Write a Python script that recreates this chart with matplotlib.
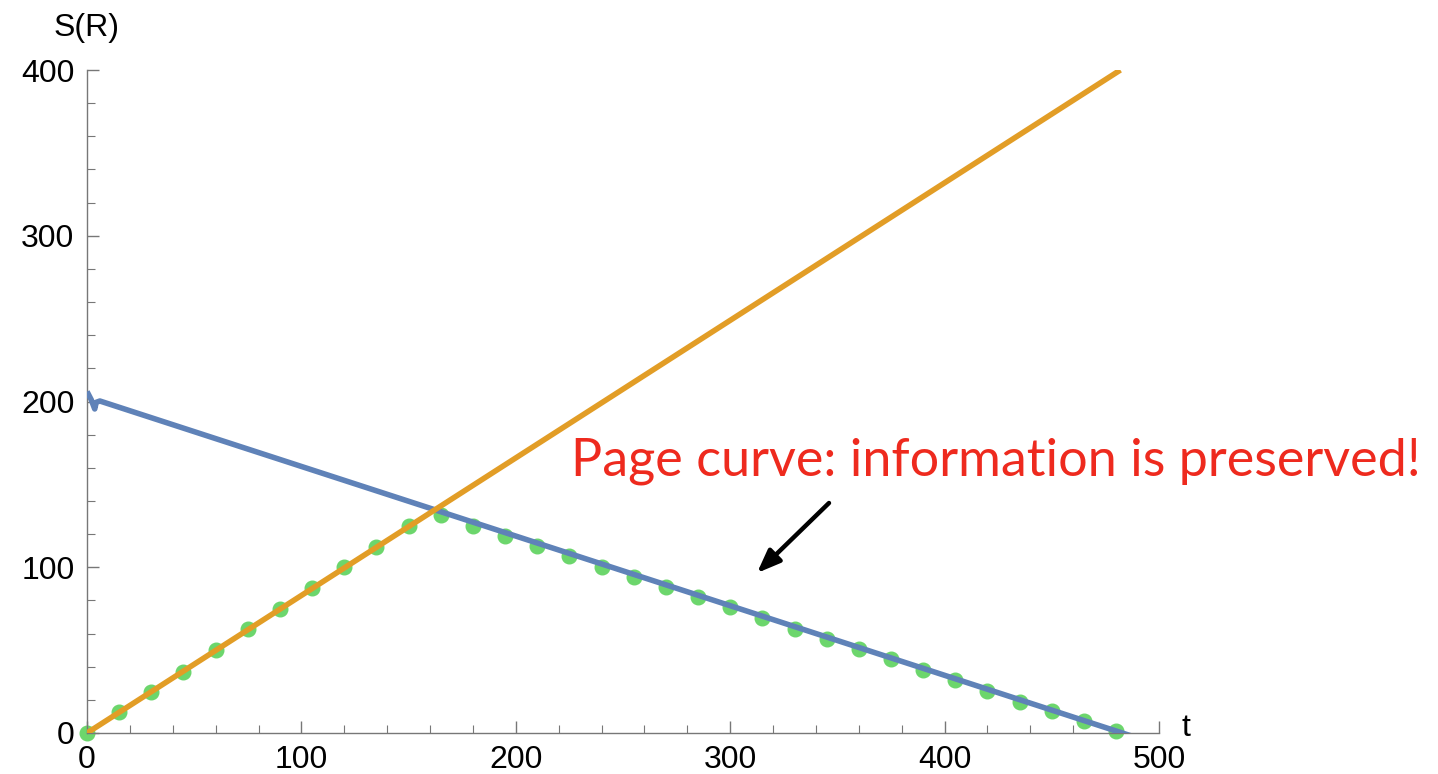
import matplotlib
matplotlib.use('Agg')
import matplotlib.pyplot as plt
from matplotlib.ticker import MultipleLocator

# radiation entropy (orange, straight line)
rad_t = [0, 482]
rad_s = [0, 400]

# black hole entropy (blue) with the small kink at the start
bh_t = [0, 2, 3.6, 4.3, 6, 490]
bh_s = [206, 201, 195.5, 199.5, 200.3, -3]

# Page curve points (green dots)
page_t = [0, 15, 30, 45, 60, 75, 90, 105, 120, 135, 150, 165, 180, 195, 210, 225, 240,
          255, 270, 285, 300, 315, 330, 345, 360, 375, 390, 405, 420, 435, 450, 465, 480]
page_s = [0, 12.5, 25, 37, 50, 62.5, 75, 87.5, 100, 112, 125, 131.5, 125, 119, 113, 107,
          100, 94, 88, 82, 76, 69.5, 63, 56.5, 50.5, 44.5, 38, 32, 25.5, 19, 13, 7, 1]

tick_col = '#777777'
plt.rcParams['font.family'] = ['Liberation Sans', 'DejaVu Sans']

fig = plt.figure(figsize=(14.38, 7.74), dpi=100)
ax = fig.add_axes([87 / 1438, 1 - 733 / 774, (1159 - 87) / 1438, (733 - 70) / 774])

ax.plot(page_t, page_s, 'o', color='#6CD66C', markersize=10.5, zorder=2, clip_on=False)
ax.plot(bh_t, bh_s, color='#5F82B8', lw=4, zorder=3, solid_capstyle='butt')
ax.plot(rad_t, rad_s, color='#E29D26', lw=4, zorder=4, solid_capstyle='butt')

ax.set_xlim(0, 500)
ax.set_ylim(0, 400)

for side in ['top', 'right']:
    ax.spines[side].set_visible(False)
for side in ['left', 'bottom']:
    ax.spines[side].set_color(tick_col)
    ax.spines[side].set_linewidth(1.0)

ax.xaxis.set_major_locator(MultipleLocator(100))
ax.xaxis.set_minor_locator(MultipleLocator(20))
ax.yaxis.set_major_locator(MultipleLocator(100))
ax.yaxis.set_minor_locator(MultipleLocator(20))
ax.tick_params(which='both', direction='in', color=tick_col, labelsize=23, labelcolor='black')
ax.tick_params(which='major', length=8.5, width=1.0)
ax.tick_params(which='minor', length=5.5, width=0.8)
ax.tick_params(axis='y', which='major', pad=9)
ax.tick_params(axis='x', which='major', pad=9)

fig.text(87 / 1438, 1 - 28 / 774, 'S(R)', fontsize=23, ha='center', va='center')
fig.text(1186 / 1438, 1 - 728 / 774, 't', fontsize=23, ha='center', va='center')

fig.text(571 / 1438, 1 - 476 / 774, 'Page curve: information is preserved!',
         fontsize=37.5, color='#EE2A1E', family=['Lato', 'DejaVu Sans'],
         ha='left', va='baseline')

ax.annotate('', xy=(757 / 1438, 1 - 573 / 774), xycoords='figure fraction',
            xytext=(829 / 1438, 1 - 503 / 774), textcoords='figure fraction',
            arrowprops=dict(arrowstyle='-|>,head_length=1.4,head_width=0.55',
                            color='black', lw=3.2, shrinkA=0, shrinkB=0))

fig.savefig('out.png', dpi=100)
